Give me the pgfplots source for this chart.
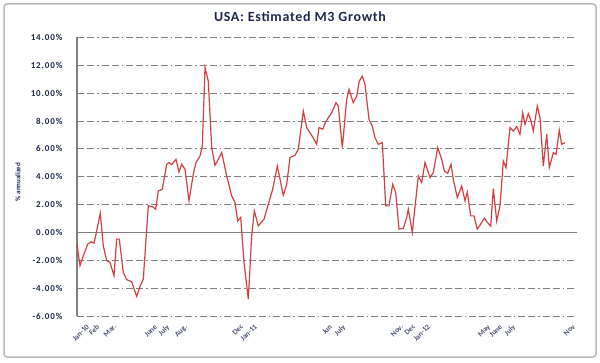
\documentclass[border=0pt]{standalone}
\usepackage{pgfplots}
\pgfplotsset{compat=1.18}
\usepackage{fontspec}
\setmainfont{Carlito}
\newfontfamily\titlefont[LetterSpace=5]{Carlito}
\newfontfamily\tickfont[LetterSpace=10]{Carlito}
\definecolor{navy}{RGB}{30,40,80}
\definecolor{linered}{RGB}{210,65,65}
\definecolor{gridgray}{RGB}{128,128,128}
\pgfplotstableread{
x y
77 -0.84
80 -2.39
83.3 -1.68
87.7 -0.84
91 -0.67
94 -0.77
96.7 0.11
100.3 1.38
103.3 -0.96
106.7 -2.03
110 -2.15
114 -3.11
116.7 -0.48
119.3 -0.48
123.3 -2.87
126.7 -3.39
131.7 -3.54
136.7 -4.59
140 -3.87
143.3 -3.35
148.3 1.91
152.3 1.86
155.7 1.67
158.3 2.98
162.3 3.10
166.7 4.90
169 5.02
171.7 4.87
176 5.25
179 4.34
181.7 4.90
185 4.54
189 2.27
193.3 4.18
196 5.02
200 5.49
202.3 6.21
205 11.83
208.3 10.87
211.7 6.09
215 4.82
218.3 5.25
221.7 5.73
226.7 4.06
231.7 2.62
235 2.15
237.7 0.83
240.7 1.08
244 -2.15
248.3 -4.78
251.7 -0.24
254.3 1.55
258.3 0.47
264 0.95
268.3 2.03
272.7 3.10
277.3 4.77
283.3 2.67
286.7 3.46
290 5.38
295 5.54
298.3 5.97
303.3 8.72
306.7 7.53
311.7 6.97
316.7 6.33
319 7.53
322.7 7.41
325.5 7.90
328.3 8.24
331.7 8.60
336 9.32
338.3 9.08
342.3 6.09
346.7 9.56
349 10.27
353.3 9.32
356.7 9.79
359.3 10.87
362.3 11.23
365 10.63
369 8.12
372.3 7.64
375 6.81
378.3 6.33
382.3 6.45
385.7 1.91
389 1.91
392.7 3.46
395.7 2.87
399 0.24
403.3 0.29
406.7 1.08
408.3 1.67
412.3 0.00
418.3 4.06
421.7 3.58
425 5.02
430 3.94
433.3 4.30
437.7 6.09
441.7 5.25
444.3 4.42
447.7 4.25
451 4.90
453.3 3.82
457.3 2.51
461.7 3.34
465 2.27
467.3 2.91
470.7 1.19
474 1.19
477.3 0.24
480.7 0.60
484.3 1.03
487.3 0.72
490.7 0.47
493.3 3.15
496.7 0.83
500 1.91
503.3 5.13
506 4.66
510 7.53
513.3 7.28
516.7 7.60
520 7.05
522.7 8.60
525 7.76
528.3 8.53
531 8.00
533.3 7.28
537.3 9.08
540 8.24
543.3 4.77
546.7 7.05
549.3 4.66
553.3 5.73
556 5.61
559.3 7.33
561.7 6.33
565 6.45
}\mthree
\begin{document}
\begin{tikzpicture}[x=1bp,y=1bp]
\useasboundingbox (0,0) rectangle (600,362);
\draw[gray!55, line width=1.5bp, rounded corners=3bp] (4,5) rectangle (596,358);
\node[font=\titlefont\bfseries\fontsize{14bp}{16bp}\selectfont, text=navy] at (300,345) {USA: Estimated M3 Growth};
\node[rotate=90, font=\bfseries\fontsize{7bp}{8bp}\selectfont, text=navy] at (18,180) {\% annualized};
\begin{axis}[
  at={(77bp,46bp)}, anchor=south west, scale only axis,
  width=500bp, height=278.5bp,
  xmin=77, xmax=577, ymin=-6, ymax=14,
  axis x line*=bottom, axis y line*=left,
  x axis line style={draw=none},
  y axis line style={gray, line width=1.3bp, -},
  ytick={-6,-4,...,14},
  xtick={79,89,106,147,159,177,233,247,322,335,393,405,420,480,492,505,565},
  xticklabels={Jan-10,Feb,Mar.,June,July,Aug.,Dec,Jan-11,Jun,July,Nov.,Dec,Jan-12,May,June,July,Nov},
  major tick length=0pt,
  ymajorgrids,
  major grid style={gridgray, line width=1bp, dash pattern=on 7bp off 3bp on 7bp off 3bp on 1.5bp off 3bp},
  /pgf/number format/assume math mode=true,
  yticklabel={\pgfmathprintnumber[fixed,fixed zerofill,precision=2]{\tick}\%},
  yticklabel style={font=\tickfont\bfseries\fontsize{9bp}{10bp}\selectfont, text=navy, xshift=-11bp},
  xticklabel style={rotate=45, anchor=north east, font=\bfseries\fontsize{7.5bp}{8.5bp}\selectfont, text=navy!80, inner sep=0.5bp, yshift=-10bp},
  clip=false,
]
\draw[gray, line width=1.2bp] (77,0) -- (577,0);
\addplot[linered, line width=1.2bp, mark=none] table[x=x,y=y] {\mthree};
\end{axis}
\end{tikzpicture}
\end{document}
